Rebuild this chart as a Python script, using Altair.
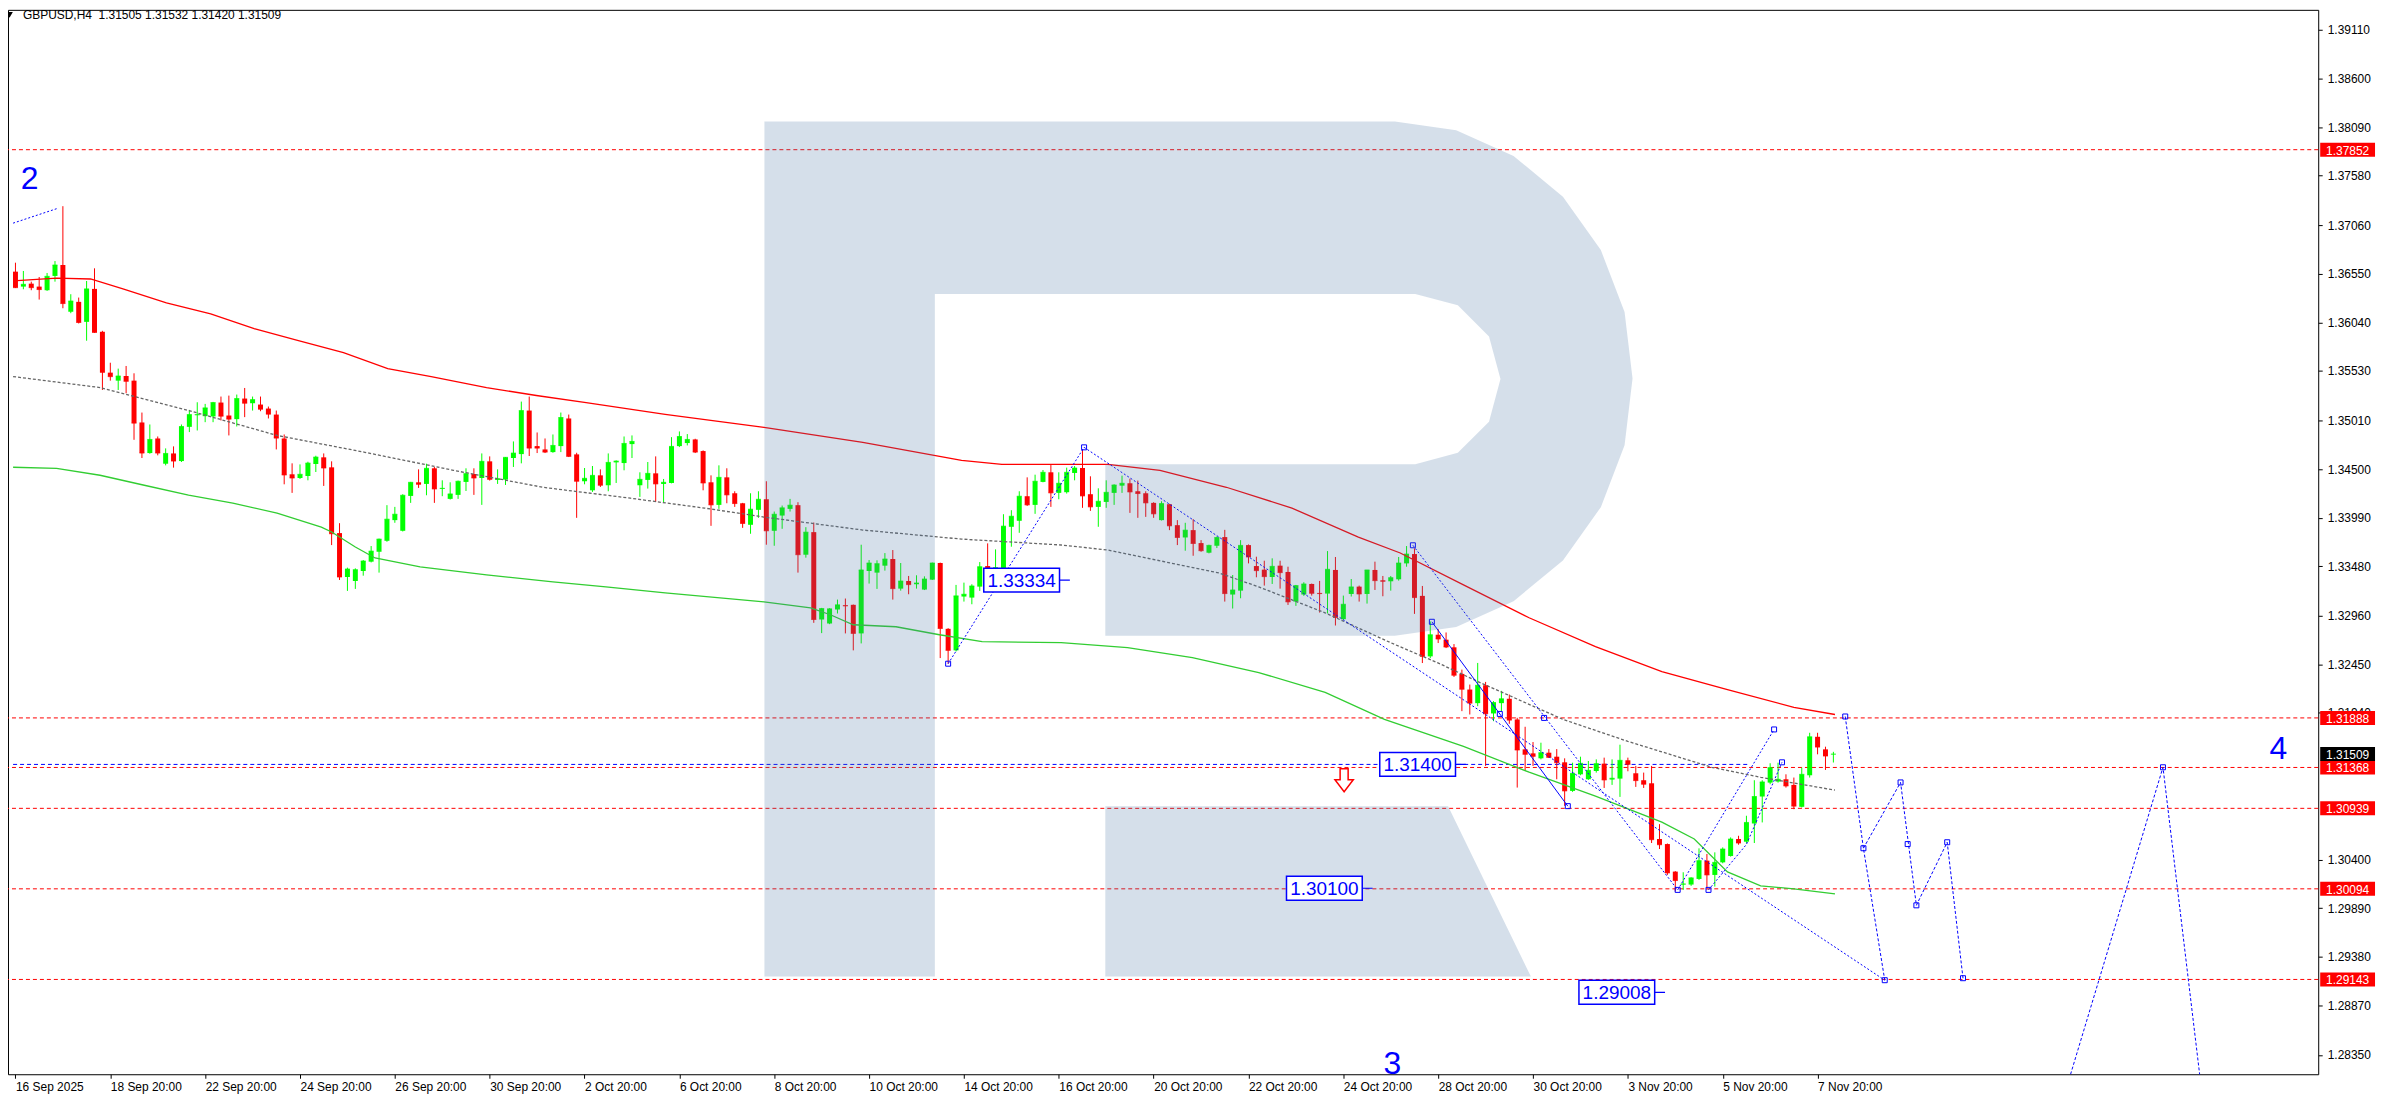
import json
import altair as alt
import pandas as pd

# ---------------- data ----------------
opens = [1.36572, 1.36415, 1.36446, 1.36415, 1.36377, 1.36527, 1.36642, 1.36150, 1.36255, 1.36045,
         1.36391, 1.35941, 1.35512, 1.35428, 1.35477, 1.35428, 1.34989, 1.34668, 1.34821, 1.34556,
         1.34664, 1.34584, 1.34943, 1.35065, 1.35055, 1.35052, 1.35198, 1.35062, 1.35024, 1.35240,
         1.35191, 1.35177, 1.35135, 1.35072, 1.34821, 1.34445, 1.34406, 1.34427, 1.34553, 1.34623,
         1.34518, 1.33828, 1.33367, 1.33325, 1.33430, 1.33528, 1.33632, 1.33747, 1.33964, 1.33852,
         1.34218, 1.34361, 1.34344, 1.34508, 1.34291, 1.34187, 1.34229, 1.34365, 1.34448, 1.34406,
         1.34581, 1.34386, 1.34389, 1.34616, 1.34657, 1.35114, 1.34741, 1.34706, 1.34678, 1.34741,
         1.35031, 1.34654, 1.34372, 1.34277, 1.34434, 1.34330, 1.34570, 1.34563, 1.34762, 1.34330,
         1.34386, 1.34455, 1.34344, 1.34354, 1.34741, 1.34773, 1.34811, 1.34689, 1.34361, 1.34124,
         1.34413, 1.34246, 1.34141, 1.33915, 1.34072, 1.34183, 1.33852, 1.34012, 1.34082, 1.34121,
         1.33601, 1.33838, 1.32921, 1.32879, 1.33026, 1.33071, 1.33075, 1.32775, 1.33430, 1.33413,
         1.33486, 1.33556, 1.33245, 1.33325, 1.33291, 1.33235, 1.33339, 1.33514, 1.32823, 1.32597,
         1.33162, 1.33151, 1.33266, 1.33482, 1.33447, 1.33447, 1.33894, 1.33957, 1.34215, 1.34124,
         1.34365, 1.34466, 1.34250, 1.34257, 1.34459, 1.34511, 1.34236, 1.34103, 1.34155, 1.34250,
         1.34326, 1.34351, 1.34267, 1.34246, 1.34145, 1.33964, 1.34131, 1.33911, 1.33782, 1.33859,
         1.33723, 1.33622, 1.33695, 1.33786, 1.33183, 1.33224, 1.33702, 1.33482, 1.33444, 1.33367,
         1.33486, 1.33420, 1.33109, 1.33183, 1.33294, 1.33200, 1.33193, 1.33441, 1.32924, 1.33189,
         1.33266, 1.33189, 1.33441, 1.33332, 1.33322, 1.33343, 1.33510, 1.33608, 1.33169, 1.32534,
         1.32761, 1.32709, 1.32629, 1.32350, 1.32186, 1.32043, 1.32231, 1.31935, 1.32043, 1.32089,
         1.31872, 1.31558, 1.31516, 1.31464, 1.31523, 1.31481, 1.31422, 1.31122, 1.31296, 1.31244,
         1.31331, 1.31408, 1.31241, 1.31251, 1.31443, 1.31307, 1.31234, 1.31202, 1.30617, 1.30564,
         1.30275, 1.30139, 1.30139, 1.30198, 1.30390, 1.30240, 1.30372, 1.30439, 1.30617, 1.30589,
         1.30780, 1.31063, 1.31209, 1.31220, 1.31244, 1.31185, 1.30955, 1.31286, 1.31690, 1.31558,
         1.31505]
highs = [1.36666, 1.36579, 1.36467, 1.36516, 1.36558, 1.36683, 1.37259, 1.36335, 1.36300, 1.36474,
         1.36607, 1.35951, 1.35616, 1.35554, 1.35582, 1.35505, 1.35093, 1.34968, 1.34842, 1.34717,
         1.34738, 1.34968, 1.35121, 1.35201, 1.35184, 1.35205, 1.35261, 1.35271, 1.35282, 1.35351,
         1.35261, 1.35261, 1.35156, 1.35114, 1.34863, 1.34560, 1.34549, 1.34577, 1.34640, 1.34664,
         1.34581, 1.33932, 1.33465, 1.33458, 1.33545, 1.33692, 1.33770, 1.34121, 1.34103, 1.34236,
         1.34365, 1.34497, 1.34556, 1.34522, 1.34382, 1.34361, 1.34379, 1.34508, 1.34508, 1.34664,
         1.34633, 1.34497, 1.34626, 1.34790, 1.35208, 1.35261, 1.34884, 1.34821, 1.34863, 1.35093,
         1.35072, 1.34671, 1.34511, 1.34532, 1.34497, 1.34664, 1.34591, 1.34842, 1.34853, 1.34466,
         1.34574, 1.34633, 1.34396, 1.34835, 1.34895, 1.34867, 1.34818, 1.34696, 1.34434, 1.34539,
         1.34508, 1.34267, 1.34145, 1.34246, 1.34267, 1.34372, 1.34054, 1.34117, 1.34187, 1.34152,
         1.33890, 1.33939, 1.33043, 1.33040, 1.33130, 1.33141, 1.33078, 1.33706, 1.33545, 1.33542,
         1.33618, 1.33650, 1.33514, 1.33378, 1.33385, 1.33374, 1.33518, 1.33518, 1.32830, 1.33284,
         1.33308, 1.33291, 1.33524, 1.33720, 1.33657, 1.34026, 1.34068, 1.34267, 1.34413, 1.34441,
         1.34490, 1.34542, 1.34466, 1.34515, 1.34532, 1.34706, 1.34424, 1.34298, 1.34382, 1.34340,
         1.34431, 1.34399, 1.34379, 1.34267, 1.34152, 1.34162, 1.34135, 1.33964, 1.33936, 1.33974,
         1.33754, 1.33706, 1.33793, 1.33862, 1.33388, 1.33754, 1.33709, 1.33580, 1.33538, 1.33563,
         1.33538, 1.33475, 1.33284, 1.33312, 1.33298, 1.33326, 1.33639, 1.33577, 1.33172, 1.33346,
         1.33277, 1.33441, 1.33528, 1.33378, 1.33378, 1.33577, 1.33692, 1.33667, 1.33273, 1.32900,
         1.32820, 1.32785, 1.32663, 1.32395, 1.32238, 1.32465, 1.32266, 1.32064, 1.32172, 1.32133,
         1.31889, 1.31795, 1.31635, 1.31628, 1.31561, 1.31561, 1.31464, 1.31418, 1.31481, 1.31436,
         1.31453, 1.31471, 1.31453, 1.31607, 1.31471, 1.31384, 1.31314, 1.31384, 1.30773, 1.30570,
         1.30280, 1.30268, 1.30216, 1.30519, 1.30460, 1.30477, 1.30529, 1.30634, 1.30651, 1.30861,
         1.31234, 1.31234, 1.31412, 1.31418, 1.31296, 1.31262, 1.31366, 1.31732, 1.31732, 1.31586,
         1.31532]
lows = [1.36400, 1.36387, 1.36377, 1.36279, 1.36370, 1.36467, 1.36188, 1.36136, 1.36028, 1.35847,
        1.35930, 1.35330, 1.35428, 1.35330, 1.35296, 1.34807, 1.34616, 1.34661, 1.34644, 1.34539,
        1.34515, 1.34574, 1.34888, 1.34905, 1.34992, 1.34992, 1.35010, 1.34853, 1.34947, 1.35045,
        1.35114, 1.35107, 1.35031, 1.34706, 1.34340, 1.34250, 1.34396, 1.34382, 1.34469, 1.34323,
        1.33702, 1.33336, 1.33221, 1.33242, 1.33381, 1.33520, 1.33413, 1.33737, 1.33936, 1.33845,
        1.34145, 1.34302, 1.34225, 1.34145, 1.34215, 1.34180, 1.34187, 1.34270, 1.34229, 1.34124,
        1.34379, 1.34344, 1.34333, 1.34522, 1.34560, 1.34637, 1.34668, 1.34668, 1.34671, 1.34678,
        1.34626, 1.33988, 1.34340, 1.34260, 1.34312, 1.34267, 1.34354, 1.34487, 1.34616, 1.34208,
        1.34295, 1.34155, 1.34145, 1.34350, 1.34731, 1.34748, 1.34668, 1.34277, 1.33904, 1.34082,
        1.34141, 1.34103, 1.33883, 1.33821, 1.33988, 1.33706, 1.33695, 1.33873, 1.34054, 1.33413,
        1.33570, 1.32886, 1.32778, 1.32872, 1.32984, 1.32775, 1.32597, 1.32670, 1.33298, 1.33242,
        1.33434, 1.33130, 1.33224, 1.33186, 1.33245, 1.33230, 1.33336, 1.32516, 1.32457, 1.32586,
        1.33109, 1.33081, 1.33221, 1.33406, 1.33353, 1.33350, 1.33685, 1.33831, 1.34113, 1.34030,
        1.34361, 1.34103, 1.34183, 1.34243, 1.34382, 1.34093, 1.34061, 1.33894, 1.34093, 1.34124,
        1.34250, 1.34040, 1.33988, 1.33998, 1.33988, 1.33960, 1.33859, 1.33702, 1.33643, 1.33590,
        1.33632, 1.33615, 1.33671, 1.33109, 1.33036, 1.33144, 1.33510, 1.33364, 1.33277, 1.33294,
        1.33245, 1.33074, 1.33064, 1.33169, 1.33172, 1.32994, 1.32984, 1.32858, 1.32918, 1.33162,
        1.33109, 1.33088, 1.33231, 1.33165, 1.33224, 1.33329, 1.33475, 1.32980, 1.32464, 1.32516,
        1.32674, 1.32621, 1.32318, 1.31959, 1.31924, 1.32011, 1.31384, 1.31854, 1.31952, 1.31826,
        1.31157, 1.31331, 1.31384, 1.31453, 1.31467, 1.31244, 1.30965, 1.31112, 1.31286, 1.31237,
        1.31314, 1.31153, 1.31185, 1.31059, 1.31328, 1.31164, 1.31153, 1.30575, 1.30512, 1.30240,
        1.30066, 1.30083, 1.30125, 1.30188, 1.30083, 1.30118, 1.30362, 1.30432, 1.30557, 1.30571,
        1.30575, 1.30791, 1.31192, 1.31209, 1.31157, 1.30930, 1.30948, 1.31262, 1.31506, 1.31342,
        1.31420]
closes = [1.36404, 1.36439, 1.36404, 1.36384, 1.36523, 1.36642, 1.36237, 1.36265, 1.36038, 1.36391,
          1.35934, 1.35515, 1.35470, 1.35477, 1.35421, 1.34982, 1.34668, 1.34811, 1.34668, 1.34664,
          1.34584, 1.34947, 1.35072, 1.35072, 1.35142, 1.35198, 1.35055, 1.35024, 1.35240, 1.35191,
          1.35229, 1.35128, 1.35076, 1.34825, 1.34438, 1.34406, 1.34445, 1.34563, 1.34626, 1.34511,
          1.33821, 1.33367, 1.33451, 1.33444, 1.33535, 1.33639, 1.33765, 1.33974, 1.34026, 1.34225,
          1.34361, 1.34340, 1.34508, 1.34291, 1.34298, 1.34239, 1.34372, 1.34452, 1.34406, 1.34581,
          1.34392, 1.34399, 1.34623, 1.34668, 1.35114, 1.34720, 1.34720, 1.34678, 1.34748, 1.35041,
          1.34633, 1.34372, 1.34403, 1.34434, 1.34330, 1.34570, 1.34584, 1.34769, 1.34790, 1.34392,
          1.34455, 1.34344, 1.34361, 1.34738, 1.34842, 1.34811, 1.34678, 1.34354, 1.34124, 1.34413,
          1.34229, 1.34138, 1.33929, 1.34079, 1.34183, 1.33852, 1.34026, 1.34093, 1.34121, 1.33601,
          1.33838, 1.32921, 1.33036, 1.33033, 1.33075, 1.33064, 1.32775, 1.33441, 1.33514, 1.33507,
          1.33556, 1.33245, 1.33325, 1.33287, 1.33304, 1.33346, 1.33514, 1.32827, 1.32597, 1.33169,
          1.33186, 1.33273, 1.33475, 1.33447, 1.33465, 1.33901, 1.34005, 1.34215, 1.34124, 1.34372,
          1.34466, 1.34250, 1.34351, 1.34466, 1.34511, 1.34218, 1.34103, 1.34162, 1.34256, 1.34333,
          1.34351, 1.34260, 1.34243, 1.34145, 1.34030, 1.34138, 1.33904, 1.33782, 1.33859, 1.33719,
          1.33643, 1.33699, 1.33782, 1.33193, 1.33231, 1.33699, 1.33577, 1.33434, 1.33371, 1.33479,
          1.33413, 1.33106, 1.33277, 1.33294, 1.33196, 1.33193, 1.33448, 1.32942, 1.33081, 1.33263,
          1.33189, 1.33441, 1.33329, 1.33322, 1.33360, 1.33514, 1.33608, 1.33151, 1.32534, 1.32761,
          1.32716, 1.32632, 1.32336, 1.32189, 1.32043, 1.32231, 1.31931, 1.32050, 1.32089, 1.31865,
          1.31551, 1.31506, 1.31485, 1.31523, 1.31474, 1.31418, 1.31122, 1.31307, 1.31412, 1.31338,
          1.31408, 1.31237, 1.31255, 1.31443, 1.31401, 1.31230, 1.31192, 1.30610, 1.30557, 1.30261,
          1.30181, 1.30146, 1.30209, 1.30390, 1.30240, 1.30372, 1.30512, 1.30617, 1.30575, 1.30791,
          1.31063, 1.31216, 1.31366, 1.31244, 1.31174, 1.30962, 1.31296, 1.31690, 1.31582, 1.31488,
          1.31509]

date_label_bars = [0, 12, 24, 36, 48, 60, 72, 84, 96, 108, 120, 132, 144, 156, 168, 180, 192, 204, 216, 228]
date_labels = ["16 Sep 2025", "18 Sep 20:00", "22 Sep 20:00", "24 Sep 20:00", "26 Sep 20:00",
               "30 Sep 20:00", "2 Oct 20:00", "6 Oct 20:00", "8 Oct 20:00", "10 Oct 20:00",
               "14 Oct 20:00", "16 Oct 20:00", "20 Oct 20:00", "22 Oct 20:00", "24 Oct 20:00",
               "28 Oct 20:00", "30 Oct 20:00", "3 Nov 20:00", "5 Nov 20:00", "7 Nov 20:00"]
# scale labels visible in the picture (1.31430 / 1.30910 sit under the price boxes)
price_ticks = [1.39110, 1.38600, 1.38090, 1.37580, 1.37060, 1.36550, 1.36040, 1.35530, 1.35010,
               1.34500, 1.33990, 1.33480, 1.32960, 1.32450, 1.31940, 1.30400,
               1.29890, 1.29380, 1.28870, 1.28350]

level_prices = [1.37852, 1.31888, 1.31368, 1.30939, 1.30094, 1.29143]
current_price = 1.31509
header_text = "GBPUSD,H4\u00a0\u00a01.31505 1.31532 1.31420 1.31509"

# moving averages (bar, price)
ma_red_bars = [-0.3, 5.2, 9.5, 13.6, 19.1, 24.7, 30.2, 35.8, 41.5, 47.1, 52.6, 59.6, 65.9, 72.2, 82.2,
               94.7, 107.2, 119.7, 124.8, 138.2, 144.8, 153.2, 161.5, 169.9, 175.2, 183.2, 191.5,
               199.9, 208.3, 216.6, 225.0, 230.2]
ma_red_vals = [1.36475, 1.36505, 1.36495, 1.36391, 1.36244, 1.36129, 1.35973, 1.35847, 1.35722,
               1.35554, 1.35471, 1.35355, 1.35272, 1.35198, 1.35073, 1.34937, 1.34780, 1.34592,
               1.34550, 1.34550, 1.34487, 1.34309, 1.34090, 1.33786, 1.33619, 1.33284, 1.32939,
               1.32636, 1.32374, 1.32186, 1.31998, 1.31924]
ma_gray_bars = [-0.3, 10.7, 21.9, 33.1, 44.2, 55.4, 66.7, 77.8, 87.2, 94.7, 107.2, 119.7, 132.3, 138.2,
                152.3, 157.3, 165.7, 174.0, 179.9, 185.3, 195.8, 204.0, 214.6, 220.8, 230.2]
ma_gray_vals = [1.35471, 1.35355, 1.35115, 1.34853, 1.34676, 1.34487, 1.34309, 1.34194, 1.34090,
                1.33996, 1.33860, 1.33765, 1.33703, 1.33650, 1.33409, 1.33263, 1.32991, 1.32677,
                1.32468, 1.32259, 1.31872, 1.31642, 1.31370, 1.31265, 1.31130]
ma_green_bars = [-0.3, 5.2, 10.7, 16.3, 21.9, 27.5, 33.1, 38.7, 40.0, 43.0, 45.5, 51.2, 59.6, 68.0, 74.7,
                 82.2, 94.7, 100.6, 103.1, 106.0, 111.4, 116.9, 122.3, 132.3, 140.7, 148.9, 157.3,
                 165.7, 173.2, 183.2, 191.5, 199.9, 208.3, 212.4, 216.6, 220.8, 225.0, 230.2]
ma_green_vals = [1.34519, 1.34508, 1.34435, 1.34330, 1.34226, 1.34142, 1.34037, 1.33891, 1.33839,
                 1.33682, 1.33567, 1.33473, 1.33389, 1.33316, 1.33263, 1.33201, 1.33106, 1.33044,
                 1.32971, 1.32866, 1.32845, 1.32761, 1.32688, 1.32678, 1.32625, 1.32521, 1.32364,
                 1.32155, 1.31872, 1.31590, 1.31318, 1.31067, 1.30795, 1.30617, 1.30272, 1.30125,
                 1.30094, 1.30042]

# wave / analysis lines (bar, price)
dotted_lines = {
    "A": [(-0.3, 1.37081), (5.4, 1.37238)],
    "B": [(118.0, 1.32457), (135.2, 1.34728)],
    "C": [(135.2, 1.34728), (236.5, 1.29135)],
    "L1": [(176.8, 1.33700), (210.3, 1.30083)],
    "U1": [(210.3, 1.30083), (222.5, 1.31767)],
    "U2": [(214.2, 1.30083), (219.0, 1.30560), (223.5, 1.31422)],
}
solid_lines = {"K": [(179.2, 1.32897), (196.4, 1.30962)]}
forecast_lines = {
    "F1": [(231.5, 1.31903), (233.8, 1.30520), (236.5, 1.29135)],
    "F2": [(233.8, 1.30520), (238.5, 1.31211), (240.5, 1.29921), (244.4, 1.30583), (246.4, 1.29156)],
    "F3": [(259.1, 1.27897), (271.7, 1.31370), (276.7, 1.27897)],
}
marker_points = [(118.0, 1.32457), (135.2, 1.34728), (176.8, 1.33700), (179.2, 1.32897), (187.8, 1.31930),
                 (196.4, 1.30962), (193.4, 1.31888), (210.3, 1.30083), (214.2, 1.30083), (222.5, 1.31767),
                 (223.5, 1.31422), (231.5, 1.31903), (233.8, 1.30520), (236.5, 1.29135), (238.5, 1.31211),
                 (239.4, 1.30564), (240.5, 1.29921), (244.4, 1.30583), (246.4, 1.29156), (271.7, 1.31370)]

note_bars = [127.3, 177.4, 165.6, 202.6]
note_prices = [1.33334, 1.31400, 1.30100, 1.29008]
blue_level = {"start": -0.3, "end": 219.1, "price": 1.31400}
arrow_bar, arrow_price = 168.1, 1.31234
wave_texts = ["2", "3", "4"]
wave_bars = [1.8, 174.2, 286.3]
wave_prices = [1.37542, 1.28250, 1.31560]

# ---------------- styling / layout ----------------
W, H = 2318, 1068
FONT = "Liberation Sans"
BLUE = "#0000ff"
xs = alt.Scale(domain=[-0.314, 290.71], nice=False, zero=False)
ys = alt.Scale(domain=[1.28148, 1.39320], nice=False, zero=False)
dir_scale = alt.Scale(domain=["up", "down"], range=["#00ff00", "#ff0000"])

LOGO_PATH = ("M -0.9989 -0.9817 L 0.4485 -0.9817 L 0.5894 -0.9616 L 0.7211 -0.9025 L 0.8345 -0.8087 "
             "L 0.9215 -0.6865 L 0.9760 -0.5442 L 0.9943 -0.3913 L 0.9760 -0.2384 L 0.9215 -0.0961 "
             "L 0.8345 0.0261 L 0.7211 0.1199 L 0.5894 0.1789 L 0.4485 0.1991 L -0.2162 0.1991 "
             "L -0.2162 -0.1945 L 0.4954 -0.1945 L 0.5932 -0.2208 L 0.6648 -0.2923 L 0.6911 -0.3902 "
             "L 0.6648 -0.4880 L 0.5932 -0.5595 L 0.4954 -0.5858 L -0.6076 -0.5858 L -0.6076 0.9817 "
             "L -0.9989 0.9817 Z "
             "M -0.2162 0.5904 L 0.5709 0.5904 L 0.7609 0.9817 L -0.2162 0.9817 Z")
AXIS_BOX = "M -1 -0.2545 L 1 -0.2545 L 1 0.2545 L -1 0.2545 Z"
NOTE_BOX = "M -1 -0.3158 L 1 -0.3158 L 1 0.3158 L -1 0.3158 Z"
ARROW = "M -0.35 -1 L 0.35 -1 L 0.35 -0.05 L 0.8 -0.05 L 0 1 L -0.8 -0.05 L -0.35 -0.05 Z"

# ---------------- frames ----------------
candles = pd.DataFrame({"bar": list(range(len(opens))), "open": opens, "high": highs,
                        "low": lows, "close": closes})
candles["dir"] = ["up" if c >= o else "down" for o, c in zip(opens, closes)]


def seg_frame(segments):
    rows = []
    for name, pts in segments.items():
        for k, (b, p) in enumerate(pts):
            rows.append({"seg": name, "k": k, "bar": b, "price": p})
    return pd.DataFrame(rows)


x_axis = alt.Axis(values=date_label_bars,
                  labelExpr=f"{json.dumps(date_labels)}[round(datum.value/12)]",
                  orient="bottom", labelAlign="left", labelBaseline="top",
                  tickSize=4, labelPadding=3, labelFont=FONT, labelFontSize=12,
                  labelColor="black", tickColor="black", domain=False, grid=False,
                  labelOverlap=False, labelFlush=False, title=None)
y_axis = alt.Axis(values=price_ticks, format=".5f", orient="right", tickSize=4, labelPadding=5,
                  labelFont=FONT, labelFontSize=12, labelColor="black", tickColor="black",
                  domain=False, grid=False, labelOverlap=False, labelFlush=False, title=None)


def X(f="bar"):
    return alt.X(f"{f}:Q", scale=xs, axis=x_axis, title=None)


def Y(f="price"):
    return alt.Y(f"{f}:Q", scale=ys, axis=y_axis, title=None)


layers = []

# horizontal levels
layers.append(alt.Chart(pd.DataFrame({"price": level_prices})).mark_rule(
    color="#ff0000", strokeWidth=1, strokeDash=[4, 3]).encode(y=Y()))
layers.append(alt.Chart(pd.DataFrame([blue_level])).mark_rule(
    color=BLUE, strokeWidth=1, strokeDash=[4, 3]).encode(x=X("start"), x2="end:Q", y=Y()))

# candles
layers.append(alt.Chart(candles).mark_rule(strokeWidth=1).encode(
    x=X(), y=Y("low"), y2="high:Q", color=alt.Color("dir:N", scale=dir_scale, legend=None)))
layers.append(alt.Chart(candles).mark_bar(width=5).encode(
    x=X(), y=Y("open"), y2="close:Q",
    color=alt.Color("dir:N", scale=dir_scale, legend=None)))
layers.append(alt.Chart(candles).mark_tick(orient="horizontal", size=5, thickness=1).encode(
    x=X(), y=Y("close"), color=alt.Color("dir:N", scale=dir_scale, legend=None)))

# moving averages
layers.append(alt.Chart(pd.DataFrame({"bar": ma_red_bars, "price": ma_red_vals})).mark_line(
    color="#ff0000", strokeWidth=1.3).encode(x=X(), y=Y()))
layers.append(alt.Chart(pd.DataFrame({"bar": ma_gray_bars, "price": ma_gray_vals})).mark_line(
    color="#666666", strokeWidth=1.3, strokeDash=[3, 2]).encode(x=X(), y=Y()))
layers.append(alt.Chart(pd.DataFrame({"bar": ma_green_bars, "price": ma_green_vals})).mark_line(
    color="#32cd32", strokeWidth=1.3).encode(x=X(), y=Y()))

# analysis lines
layers.append(alt.Chart(seg_frame(dotted_lines)).mark_line(
    color=BLUE, strokeWidth=1, strokeDash=[2, 2]).encode(x=X(), y=Y(), detail="seg:N", order="k:Q"))
layers.append(alt.Chart(seg_frame(solid_lines)).mark_line(
    color=BLUE, strokeWidth=1).encode(x=X(), y=Y(), detail="seg:N", order="k:Q"))
layers.append(alt.Chart(seg_frame(forecast_lines)).mark_line(
    color=BLUE, strokeWidth=1, strokeDash=[3, 2], clip=True).encode(
    x=X(), y=Y(), detail="seg:N", order="k:Q"))
layers.append(alt.Chart(pd.DataFrame(marker_points, columns=["bar", "price"])).mark_point(
    shape="square", filled=False, color=BLUE, size=25, strokeWidth=1, opacity=1).encode(x=X(), y=Y()))

# watermark logo (semi-transparent overlay)
layers.append(alt.Chart(pd.DataFrame({"k": [0]})).mark_point(
    shape=LOGO_PATH, filled=True, color="#4a75a4", opacity=0.23, strokeWidth=0,
    size=874 * 874).encode(x=alt.value(1195.5), y=alt.value(541)))

# price notes
notes = pd.DataFrame({"bar": note_bars, "price": note_prices})
notes["bar_end"] = notes["bar"] + 6.1
layers.append(alt.Chart(notes).mark_rule(color=BLUE, strokeWidth=1.2).encode(
    x=X(), x2="bar_end:Q", y=Y()))
layers.append(alt.Chart(notes).mark_point(
    shape=NOTE_BOX, filled=True, fill="white", stroke=BLUE, strokeWidth=1.5, opacity=1,
    size=76 * 76).encode(x=X(), y=Y()))
layers.append(alt.Chart(notes).mark_text(
    font=FONT, fontSize=19, color=BLUE, align="center", baseline="middle", dy=1).encode(
    x=X(), y=Y(), text=alt.Text("price:Q", format=".5f")))

layers.append(alt.Chart(pd.DataFrame({"bar": [arrow_bar], "price": [arrow_price]})).mark_point(
    shape=ARROW, filled=True, fill="white", stroke="#ff0000", strokeWidth=1.5, opacity=1,
    size=23 * 23).encode(x=X(), y=Y()))

layers.append(alt.Chart(pd.DataFrame({"bar": wave_bars, "price": wave_prices, "t": wave_texts})).mark_text(
    font=FONT, fontSize=32, color=BLUE, align="center", baseline="middle").encode(
    x=X(), y=Y(), text="t:N"))

# header
layers.append(alt.Chart(pd.DataFrame({"k": [0]})).mark_point(
    shape="triangle-down", filled=True, color="black", size=45, opacity=1).encode(
    x=alt.value(1.5), y=alt.value(5)))
layers.append(alt.Chart(pd.DataFrame({"t": [header_text]})).mark_text(
    font=FONT, fontSize=12, color="black", align="left", baseline="middle").encode(
    x=alt.value(15), y=alt.value(5), text="t:N"))

# price-scale boxes
layers.append(alt.Chart(pd.DataFrame({"price": level_prices})).mark_point(
    shape=AXIS_BOX, filled=True, color="#ff0000", opacity=1, strokeWidth=0, size=55 * 55).encode(
    x=alt.value(2347.5), y=Y()))
layers.append(alt.Chart(pd.DataFrame({"price": [current_price]})).mark_point(
    shape=AXIS_BOX, filled=True, color="#000000", opacity=1, strokeWidth=0, size=55 * 55).encode(
    x=alt.value(2347.5), y=Y()))
layers.append(alt.Chart(pd.DataFrame({"price": level_prices + [current_price]})).mark_text(
    font=FONT, fontSize=12, color="white", align="center", baseline="middle", dy=1).encode(
    x=alt.value(2347.5), y=Y(), text=alt.Text("price:Q", format=".5f")))

chart = alt.layer(*layers).properties(
    width=W, height=H,
    padding={"left": 0, "top": 0, "right": 64, "bottom": 24},
    autosize=alt.AutoSizeParams(type="none"),
).configure(background="white").configure_view(stroke="black", strokeWidth=1)

chart.save("out.html", embed_options={"renderer": "svg", "actions": False})
